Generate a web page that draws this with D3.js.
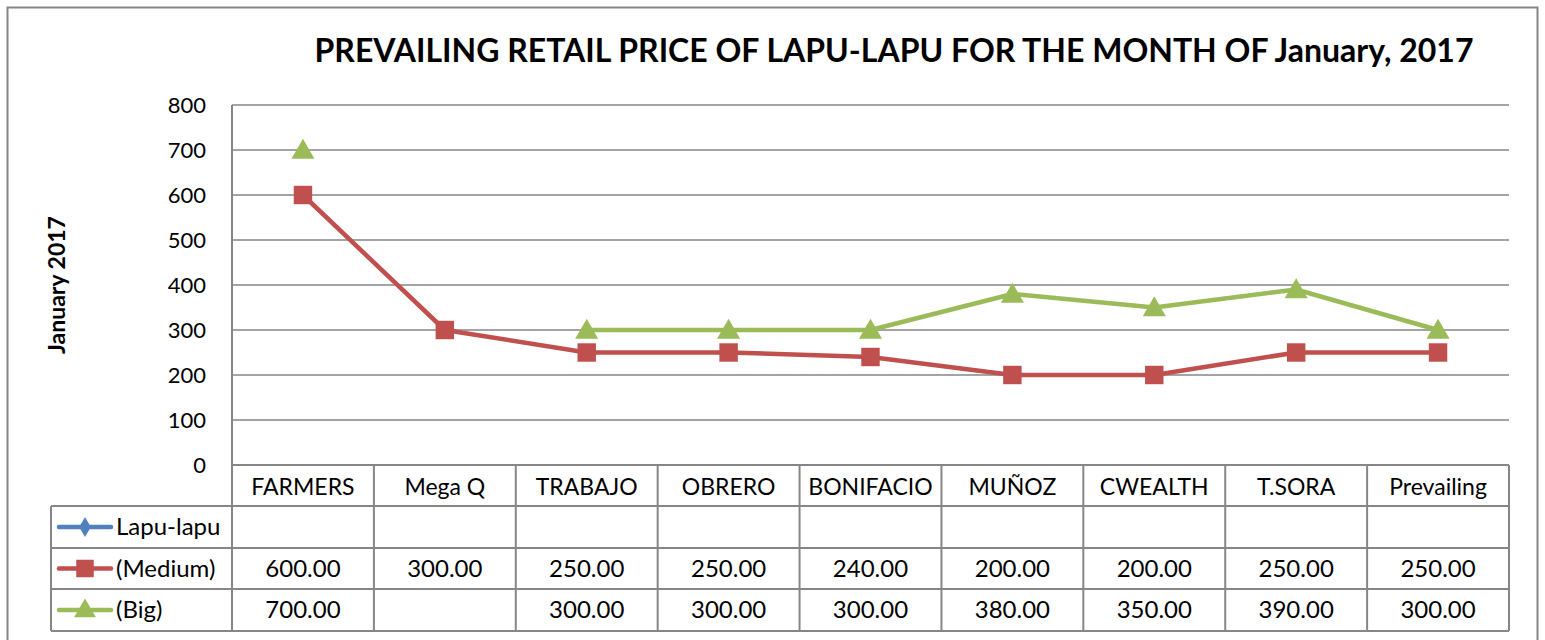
<!DOCTYPE html>
<html>
<head>
<meta charset="utf-8">
<script src="https://cdn.jsdelivr.net/npm/d3@7"></script>
<style>
  body { margin: 0; background: #fff; }
  svg { display: block; font-family: Lato, "Liberation Sans", sans-serif; }
</style>
</head>
<body>
<script>
// chart data
var categories = ["FARMERS", "Mega Q", "TRABAJO", "OBRERO", "BONIFACIO", "MUÑOZ", "CWEALTH", "T.SORA", "Prevailing"];
var seriesNames = ["Lapu-lapu", "(Medium)", "(Big)"];
var lapuValues = [null, null, null, null, null, null, null, null, null];
var mediumValues = [600, 300, 250, 250, 240, 200, 200, 250, 250];
var bigValues = [700, null, 300, 300, 300, 380, 350, 390, 300];
var yTicks = [0, 100, 200, 300, 400, 500, 600, 700, 800];

var W = 1545, H = 640;
var svg = d3.select("body").append("svg").attr("width", W).attr("height", H);

// outer chart border
svg.append("rect").attr("x", 7.5).attr("y", 7.5).attr("width", 1530).attr("height", 660)
  .attr("fill", "none").attr("stroke", "#868686").attr("stroke-width", 2);

var plotLeft = 232, plotRight = 1509, plotTop = 105, plotBottom = 465;
var x = d3.scaleBand().domain(categories).range([plotLeft, plotRight]);
var y = d3.scaleLinear().domain([0, 800]).range([plotBottom, plotTop]);
var cx = d => x(d) + x.bandwidth() / 2;

// title
svg.append("text").attr("x", 894).attr("y", 62).attr("text-anchor", "middle")
  .attr("font-size", 32).attr("font-weight", "bold").attr("fill", "#000")
  .text("PREVAILING RETAIL PRICE OF LAPU-LAPU FOR THE MONTH OF January, 2017");

// y gridlines
svg.append("g").selectAll("line").data(yTicks.slice(1)).join("line")
  .attr("x1", plotLeft).attr("x2", plotRight).attr("y1", d => y(d)).attr("y2", d => y(d))
  .attr("stroke", "#868686").attr("stroke-width", 1.5);

// y axis line
svg.append("line").attr("x1", plotLeft).attr("x2", plotLeft).attr("y1", plotTop).attr("y2", plotBottom)
  .attr("stroke", "#868686").attr("stroke-width", 2);

// y tick labels
svg.append("g").selectAll("text").data(yTicks).join("text")
  .attr("x", 206).attr("y", d => y(d) + 8).attr("text-anchor", "end")
  .attr("font-size", 22).text(d => d);

// y axis title
svg.append("text").attr("transform", "translate(65,285) rotate(-90)")
  .attr("text-anchor", "middle").attr("font-size", 23).attr("font-weight", "bold")
  .text("January 2017");

// data table
var rowEdges = [465, 506, 548, 589, 631];
var tableLeft = 51;
var tg = svg.append("g").attr("stroke", "#868686").attr("stroke-width", 2).attr("fill", "none");
rowEdges.forEach(function(ry, i) {
  tg.append("line").attr("x1", i === 0 ? plotLeft : tableLeft).attr("x2", plotRight)
    .attr("y1", ry).attr("y2", ry);
});
var colEdges = categories.map(c => x(c)).concat([plotRight]);
colEdges.forEach(function(ex) {
  tg.append("line").attr("x1", ex).attr("x2", ex).attr("y1", rowEdges[0]).attr("y2", rowEdges[4]);
});
tg.append("line").attr("x1", tableLeft).attr("x2", tableLeft).attr("y1", rowEdges[1]).attr("y2", rowEdges[4]);

// header labels
svg.append("g").selectAll("text").data(categories).join("text")
  .attr("x", cx).attr("y", 495)
  .attr("text-anchor", "middle").attr("font-size", 23).text(d => d);

var series = [
  { name: seriesNames[0], values: lapuValues, color: "#4F81BD", marker: "diamond" },
  { name: seriesNames[1], values: mediumValues, color: "#C0504D", marker: "square" },
  { name: seriesNames[2], values: bigValues, color: "#9BBB59", marker: "triangle" }
];

var symbolType = { diamond: d3.symbolDiamond, square: d3.symbolSquare, triangle: d3.symbolTriangle };
var symbolSize = { diamond: 130, square: 340, triangle: 230 };

// legend keys + values in table rows
series.forEach(function(s, i) {
  var cy = (rowEdges[i + 1] + rowEdges[i + 2]) / 2;
  svg.append("line").attr("x1", 59).attr("x2", 111).attr("y1", cy).attr("y2", cy)
    .attr("stroke", s.color).attr("stroke-width", 4.5).attr("stroke-linecap", "round");
  svg.append("path").attr("d", d3.symbol().type(symbolType[s.marker]).size(symbolSize[s.marker] * 0.9)())
    .attr("transform", "translate(85," + (cy + (s.marker === "triangle" ? 1 : 0)) + ")").attr("fill", s.color);
  svg.append("text").attr("x", 116).attr("y", cy + 8).attr("font-size", 24).text(s.name);
  svg.append("g").selectAll("text").data(categories).join("text")
    .attr("x", cx).attr("y", cy + 8)
    .attr("text-anchor", "middle").attr("font-size", 24)
    .text((d, j) => s.values[j] == null ? "" : d3.format(".2f")(s.values[j]));
});

// lines + markers
var line = d3.line()
  .defined(d => d.v != null)
  .x(d => cx(d.c))
  .y(d => y(d.v));

series.forEach(function(s) {
  var pts = categories.map((c, j) => ({ c: c, v: s.values[j] }));
  svg.append("path").datum(pts).attr("d", line)
    .attr("fill", "none").attr("stroke", s.color).attr("stroke-width", 4.5)
    .attr("stroke-linejoin", "round");
  svg.append("g").selectAll("path").data(pts.filter(d => d.v != null)).join("path")
    .attr("d", d3.symbol().type(symbolType[s.marker]).size(symbolSize[s.marker]))
    .attr("transform", d => "translate(" + cx(d.c) + "," + (y(d.v) + (s.marker === "triangle" ? 2 : 0)) + ")")
    .attr("fill", s.color);
});
</script>
</body>
</html>
